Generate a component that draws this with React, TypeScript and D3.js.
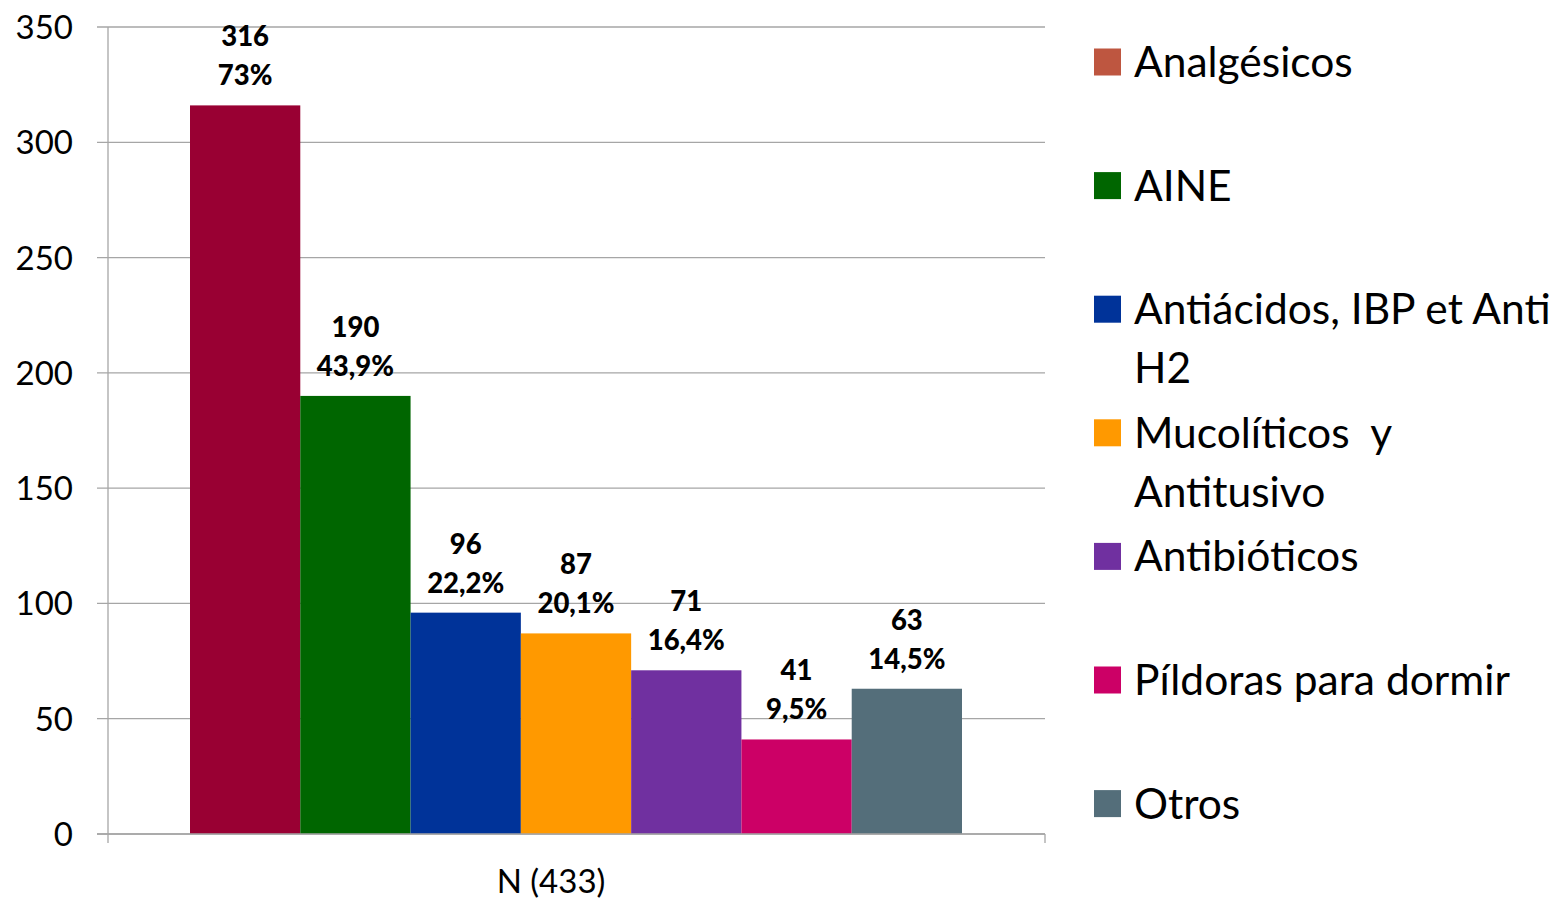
import React from "react";
import * as d3 from "d3";

const categories = ["Analgésicos", "AINE", "Antiácidos, IBP et Anti H2", "Mucolíticos  y Antitusivo", "Antibióticos", "Píldoras para dormir", "Otros"];
const legendLines = [["Analgésicos"], ["AINE"], ["Antiácidos, IBP et Anti", "H2"], ["Mucolíticos  y", "Antitusivo"], ["Antibióticos"], ["Píldoras para dormir"], ["Otros"]];
const values = [316, 190, 96, 87, 71, 41, 63];
const percents = ["73%", "43,9%", "22,2%", "20,1%", "16,4%", "9,5%", "14,5%"];
const barColors = ["#990033", "#006600", "#003399", "#FF9900", "#7030A0", "#CC0066", "#546E7A"];
const legendColors = ["#BE5640", "#006600", "#003399", "#FF9900", "#7030A0", "#CC0066", "#546E7A"];
const yTicks = [0, 50, 100, 150, 200, 250, 300, 350];
const groupLabel = "N (433)";

const FONT = "Lato, 'Open Sans', sans-serif";

export default function App() {
  const W = 1566, H = 901;
  const left = 108, right = 1045, top = 27, bottom = 834;
  const y = d3.scaleLinear().domain([0, 350]).range([bottom, top]);
  const x = d3.scaleBand<string>().domain(categories).range([190, 962]).padding(0);
  const grid = "#A6A6A6";
  return (
    <svg width={W} height={H} style={{ position: "absolute", left: 0, top: 0, background: "#fff" }} fontFamily={FONT}>
      {yTicks.map(t => (
        <g key={t}>
          <line x1={97} x2={right} y1={y(t)} y2={y(t)} stroke={grid} strokeWidth={1.3} />
          <text x={73} y={y(t) + 12} textAnchor="end" fontSize={33} fill="#000">{t}</text>
        </g>
      ))}
      <line x1={left} x2={left} y1={top} y2={bottom + 9} stroke={grid} strokeWidth={1.3} />
      <line x1={right} x2={right} y1={bottom} y2={bottom + 9} stroke={grid} strokeWidth={1.3} />
      {categories.map((c, i) => (
        <rect key={c} x={x(c)} y={y(values[i])} width={x.bandwidth()} height={bottom - y(values[i])} fill={barColors[i]} />
      ))}
      {categories.map((c, i) => {
        const cx = (x(c) as number) + x.bandwidth() / 2;
        const ty = y(values[i]);
        return (
          <g key={"l" + c} fontWeight={900} fontSize={27.5} textAnchor="middle" fill="#000">
            <text x={cx} y={ty - 59}>{values[i]}</text>
            <text x={cx} y={ty - 20}>{percents[i]}</text>
          </g>
        );
      })}
      <line x1={97} x2={right} y1={bottom} y2={bottom} stroke={grid} strokeWidth={1.3} />
      <text x={551} y={893} textAnchor="middle" fontSize={33} fill="#000">{groupLabel}</text>
      {legendLines.map((lines, i) => {
        const cy = 62 + i * 123.6;
        return (
          <g key={"lg" + i}>
            <rect x={1094} y={cy - 13.5} width={27} height={27} fill={legendColors[i]} />
            {lines.map((ln, j) => (
              <text key={j} x={1134} y={cy + 15 + j * 59} fontSize={42.5} fill="#000" style={{ whiteSpace: "pre" }}>{ln}</text>
            ))}
          </g>
        );
      })}
    </svg>
  );
}
